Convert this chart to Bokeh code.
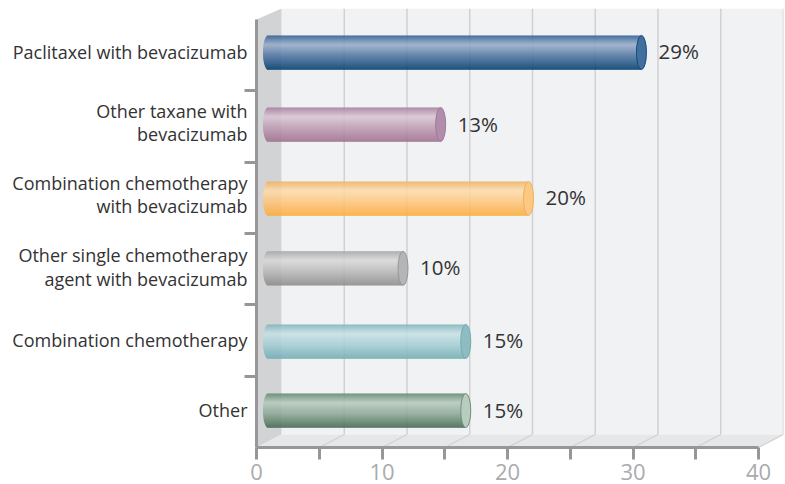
import numpy as np
from bokeh.core.properties import value
from bokeh.embed import file_html
from bokeh.models import FixedTicker, Range1d
from bokeh.plotting import figure
from bokeh.resources import INLINE

categories = [
    "Paclitaxel with bevacizumab",
    "Other taxane with\nbevacizumab",
    "Combination chemotherapy\nwith bevacizumab",
    "Other single chemotherapy\nagent with bevacizumab",
    "Combination chemotherapy",
    "Other",
]
percent = [29, 13, 20, 10, 15, 15]

# Shading of each cylinder: top edge, highlight, body, bottom edge, end cap, cap outline
shades = [
    ("#2c5d91", "#98acca", "#4f75a1", "#003c6b", "#41709f", "#0e4c80"),
    ("#a67b9a", "#d9c6d3", "#bd9bb2", "#9f6f8e", "#b18dab", "#9f7a97"),
    ("#efb163", "#fddbab", "#fdc67f", "#fbac3a", "#fdc882", "#eeb060"),
    ("#a6a6a6", "#d8d8d8", "#b8b8b8", "#8b8b8b", "#b5b5b5", "#969696"),
    ("#7fb3bb", "#c6e1e5", "#a3cdd3", "#70adb4", "#8bbdc3", "#76aab2"),
    ("#5e8771", "#b7cabc", "#8ba795", "#44694f", "#b9ccc0", "#6d917e"),
]
# Small vertical shifts, in pixels, of the rows and of their category labels
row_shift = [2.7, 2.0, -0.6, 0.8, -0.9, 1.3]
label_shift = [1.5, 3.5, 5.5, 3.0, 2.5, 2.5]

PX_X = 12.55          # pixels per x unit
PX_Y = 428 / 6        # pixels per row
DEPTH_X = 25 / PX_X   # horizontal depth of the 3D box
DEPTH_Y = 13 / PX_Y   # vertical depth of the 3D box
X_MAX = 40
Y_MAX = 6
TOP = Y_MAX + 11 / PX_Y

AXIS = "#979797"
WALL = "#f1f2f4"
SIDE = "#d2d3d5"
FLOOR = "#e6e7e9"
GRID = "#d0d1d3"
FONT = "Open Sans"

p = figure(
    frame_width=527, frame_height=439, width=785, height=484,
    x_range=Range1d(0, X_MAX + DEPTH_X), y_range=Range1d(0, TOP),
    output_backend="svg", toolbar_location=None,
    min_border_left=256, min_border_right=2, min_border_top=8, min_border_bottom=37,
    background_fill_color=None, border_fill_color="white", outline_line_color=None,
)
p.grid.visible = False

# Box walls and floor
p.patch([DEPTH_X, X_MAX + DEPTH_X, X_MAX + DEPTH_X, DEPTH_X], [DEPTH_Y, DEPTH_Y, TOP, TOP],
        fill_color=WALL, line_color=None)
p.patch([0, DEPTH_X, DEPTH_X, 0], [0, DEPTH_Y, TOP, Y_MAX], fill_color=SIDE, line_color=None)
p.patch([0, X_MAX, X_MAX + DEPTH_X, DEPTH_X], [0, 0, DEPTH_Y, DEPTH_Y],
        fill_color=FLOOR, line_color=None)

# Grid lines running up the back wall and across the floor
grid_x = np.arange(5, X_MAX + 1, 5)
p.segment(grid_x + DEPTH_X, DEPTH_Y, grid_x + DEPTH_X, TOP, line_color=GRID, line_width=1.5)
p.segment(grid_x, 0, grid_x + DEPTH_X, DEPTH_Y, line_color=GRID, line_width=1.2)


def mix(stops, t):
    """Interpolate a hex colour along the four shading stops of a cylinder."""
    pos = [0.0, 0.27, 0.6, 1.0]
    rgb = np.array([[int(c[i:i + 2], 16) for i in (1, 3, 5)] for c in stops], dtype=float)
    return "#%02x%02x%02x" % tuple(int(round(np.interp(t, pos, rgb[:, k]))) for k in range(3))


# Cylinders: a stack of thin shaded strips with a rounded left end and an elliptical cap
BAR_PX = 34
CAP_RX = 5 / PX_X
BASE = 21 / PX_X
LEFT = 11.5 / PX_X
row_centres = [Y_MAX - 0.5 - i + row_shift[i] / PX_Y for i in range(len(categories))]
for i, (v, shade) in enumerate(zip(percent, shades)):
    yc = row_centres[i]
    end = v + BASE
    for j in range(BAR_PX):
        t = (j + 0.5) / BAR_PX
        u = 2 * t - 1
        x0 = LEFT - CAP_RX * np.sqrt(max(1 - u * u, 0))
        y1 = yc + (BAR_PX / 2 - j) / PX_Y
        y0 = y1 - 1.25 / PX_Y
        p.quad(left=x0, right=end, bottom=y0, top=y1, fill_color=mix(shade[:4], t), line_color=None)
    p.ellipse(x=end, y=yc, width=2 * CAP_RX, height=BAR_PX / PX_Y,
              fill_color=shade[4], line_color=shade[5], line_width=1)
    p.text(x=[end + 17 / PX_X], y=[yc + 1 / PX_Y], text=[f"{v}%"], text_font=value(FONT),
           text_font_size="20.5px", text_color="#333333", text_align="left", text_baseline="middle")

# Value axis
xa = p.xaxis[0]
xa.ticker = FixedTicker(ticks=[0, 10, 20, 30, 40], minor_ticks=[5, 15, 25, 35])
xa.bounds = (0, X_MAX)
xa.axis_line_color = AXIS
xa.axis_line_width = 3
xa.major_tick_line_color = AXIS
xa.major_tick_line_width = 3
xa.minor_tick_line_color = AXIS
xa.minor_tick_line_width = 3
xa.major_tick_in = 0
xa.major_tick_out = 12
xa.minor_tick_in = 0
xa.minor_tick_out = 12
xa.major_label_standoff = 4
xa.major_label_text_font = FONT
xa.major_label_text_font_size = "22px"
xa.major_label_text_color = "#a9abad"

# Category axis: each text line gets its own label position, tick marks lie on the row boundaries
LINE_GAP = 11.7 / PX_Y
label_lines = {}
for yc, shift, name in zip(row_centres, label_shift, categories):
    lines = name.split("\n")
    for k, line in enumerate(lines):
        label_lines[yc + shift / PX_Y - 1.5 / PX_Y + ((len(lines) - 1) / 2 - k) * 2 * LINE_GAP] = line

ya = p.yaxis[0]
ya.ticker = FixedTicker(ticks=list(label_lines), minor_ticks=list(range(1, Y_MAX)))
ya.major_label_overrides = label_lines
ya.bounds = (0, Y_MAX)
ya.axis_line_color = AXIS
ya.axis_line_width = 3
ya.major_tick_line_color = None
ya.major_tick_in = 0
ya.major_tick_out = 0
ya.minor_tick_line_color = AXIS
ya.minor_tick_line_width = 3
ya.minor_tick_in = 0
ya.minor_tick_out = 12
ya.major_label_standoff = -3
ya.major_label_text_font = FONT
ya.major_label_text_font_size = "18px"
ya.major_label_text_color = "#333333"

open("out.html", "w").write(file_html(p, INLINE))
